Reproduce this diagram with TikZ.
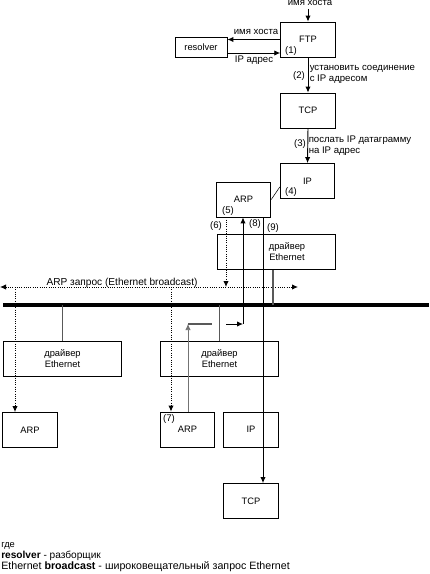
\documentclass[tikz,border=0pt]{standalone}
\usepackage{fontspec}
\setmainfont{Liberation Sans}
\usetikzlibrary{arrows.meta}
\tikzset{
  box/.style={draw, line width=0.6pt, inner sep=0pt, align=center, font=\fontsize{7}{8.25}\selectfont},
  smallbox/.style={box, minimum width=41pt, minimum height=26.25pt},
  drvbox/.style={box, minimum width=88.5pt, minimum height=26.5pt},
  lbl/.style={inner sep=0pt, align=left, font=\fontsize{7.2}{8.25}\selectfont},
  arr/.style={line width=0.7pt, -{Latex[length=4.5pt,width=4pt]}},
  dotarr/.style={densely dotted, line width=0.7pt, -{Latex[length=4.5pt,width=4pt]}},
  stub/.style={line width=0.8pt, black!65},
  bus/.style={line width=2.4pt},
}
\begin{document}
\begin{tikzpicture}[x=0.75pt, y=-0.75pt]
  \useasboundingbox (0,0) rectangle (429,574);
  % boxes
  \node[smallbox] (ftp) at (308,39.5) {FTP};
  \node[box, minimum width=39pt, minimum height=15pt] (resolver) at (201,47) {resolver};
  \node[smallbox] (tcp) at (308,110.5) {TCP};
  \node[smallbox] (ip) at (307.5,181) {IP};
  \node[smallbox] (arp) at (243.5,199.5) {ARP};
  \node[drvbox] (drvA) at (276,252) {};
  \node[box, draw=none] (drvAtxt) at (287,252) {драйвер\\Ethernet};
  \node[drvbox] (drvB) at (62.5,359) {драйвер\\Ethernet};
  \node[drvbox] (drvC) at (219.5,359) {драйвер\\Ethernet};
  \node[smallbox] (arpB) at (30,430) {ARP};
  \node[smallbox] (arpC) at (187.5,429.5) {ARP};
  \node[smallbox] (ipC) at (251,429.5) {IP};
  \node[smallbox] (tcpC) at (251,501) {TCP};

  % FTP and resolver
  \node[lbl, anchor=north] (hostname) at (310,0.5) {имя хоста};
  \coordinate (hostin) at (308,9);
  \draw[arr] (hostin) -- (ftp.north);
  \draw[arr] (ftp.west) -- (ftp.west -| resolver.east);
  \coordinate (ipret) at ([yshift=-4.5pt]resolver.east);
  \draw[arr] (ipret) -- (ipret -| ftp.west);
  \node[lbl] (askname) at (256,32) {имя хоста};
  \node[lbl] (gotip) at (254,60) {IP адрес};
  \node[lbl] (n1) at (291,51) {(1)};

  % down the stack
  \draw[arr] (ftp.south) -- (tcp.north);
  \node[lbl] (n2) at (299,76) {(2)};
  \node[lbl, anchor=west] (connect) at (309.5,74.5) {установить соединение\\с IP адресом};
  \draw[arr] (tcp.south) -- (ip.north);
  \node[lbl] (n3) at (300,144) {(3)};
  \node[lbl, anchor=west] (send) at (308.5,145.5) {послать IP датаграмму\\на IP адрес};
  \draw (arp.east) -- ([yshift=-4.5pt]ip.west);
  \node[lbl] (n4) at (291,192) {(4)};

  % Ethernet cable and broadcast
  \coordinate (busL) at (3,305);
  \coordinate (busR) at (429,305);
  \draw[bus] (busL) -- (busR);
  \coordinate (bcL) at (0,287);
  \coordinate (bcR) at (298,287);
  \draw[densely dotted, line width=0.7pt, {Latex[length=4.5pt,width=4pt]}-{Latex[length=4.5pt,width=4pt]}] (bcL) -- (bcR);
  \node[lbl, font=\fontsize{7.6}{8.25}\selectfont] (bclabel) at (122,283) {ARP запрос (Ethernet broadcast)};

  % driver stubs
  \coordinate (stubA) at (273,0);
  \draw[stub] (drvA.south -| stubA) -- (busL -| stubA);
  \draw[stub] (busL -| drvB.north) -- (drvB.north);
  \draw[stub] (busL -| drvC.north) -- (drvC.north);

  % ARP request
  \node[lbl] (n5) at (228,211) {(5)};
  \node[lbl] (n6) at (216,226) {(6)};
  \coordinate (bcMid) at (226,287);
  \draw[dotarr] (arp.south -| bcMid) -- (bcMid);
  \coordinate (bcB) at (15,287);
  \draw[dotarr] (bcB) -- (arpB.north -| bcB);
  \coordinate (bcC) at (171,287);
  \draw[dotarr] (bcC) -- (arpC.north -| bcC);
  \node[lbl] (n7) at (169,419) {(7)};

  % ARP reply
  \coordinate (r7) at (188,324);
  \coordinate (r7end) at (212,324);
  \draw[line width=0.5pt, black!55, -{Latex[length=4.5pt,width=4pt]}] (arpC.north -| r7) -- (r7);
  \draw[stub] (r7) -- (r7end);
  \coordinate (s8) at (226,324);
  \coordinate (c8) at (243,324);
  \draw[arr] (s8) -- (c8);
  \draw[arr] (c8) -- (arp.south -| c8);
  \node[lbl] (n8) at (255,224) {(8)};

  % IP datagram
  \coordinate (l9) at (263,0);
  \draw[arr] (arp.south -| l9) -- (tcpC.north -| l9);
  \node[lbl] (n9) at (273,228) {(9)};

  % notes
  \node[inner sep=0pt, anchor=west, font=\fontsize{7}{7.5}\selectfont] (where) at (1,546) {где};
  \node[inner sep=0pt, anchor=west, font=\fontsize{7.6}{8}\selectfont] (noteres) at (1,556) {\textbf{resolver} - разборщик};
  \node[inner sep=0pt, anchor=west, font=\fontsize{8}{9}\selectfont] (notebc) at (1,567) {Ethernet \textbf{broadcast} - широковещательный запрос Ethernet};
\end{tikzpicture}
\end{document}
